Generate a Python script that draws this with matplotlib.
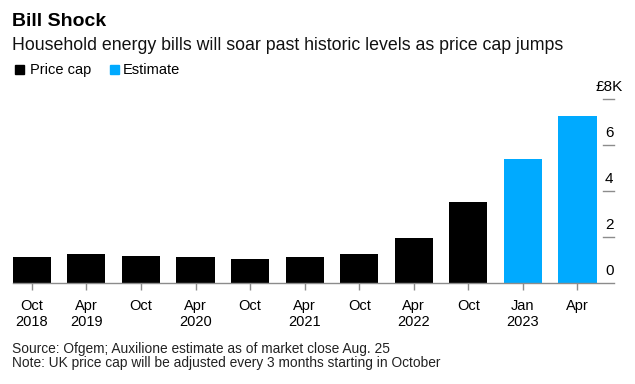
import matplotlib
matplotlib.use("Agg")
import matplotlib.pyplot as plt
from matplotlib.patches import Rectangle

plt.rcParams['font.family'] = ['Liberation Sans', 'DejaVu Sans']

# data (GBP thousands, annual typical household bill)
months = ['Oct', 'Apr', 'Oct', 'Apr', 'Oct', 'Apr', 'Oct', 'Apr', 'Oct', 'Jan', 'Apr']
years = ['2018', '2019', '', '2020', '', '2021', '', '2022', '', '2023', '']
values = [1.137, 1.254, 1.179, 1.162, 1.042, 1.138, 1.277, 1.971, 3.549, 5.387, 7.263]
is_estimate = [False] * 9 + [True] * 2
yticks = [0, 2, 4, 6, 8]
ytick_labels = ['0', '2', '4', '6', '£8K']

BLACK = '#000000'
BLUE = '#00aaff'
GRAY = '#8c8c8c'

W, H = 635, 384
fig = plt.figure(figsize=(W / 100, H / 100), dpi=100)
ax = fig.add_axes([12.7 / W, 1 - 283.3 / H, (613.5 - 12.7) / W, (283.3 - 99) / H])

x = list(range(len(values)))
colors = [BLUE if e else BLACK for e in is_estimate]
ax.bar(x, values, width=0.70, color=colors, zorder=2)

ax.set_xlim(-0.35, 10.66)
ax.set_ylim(0, 8)

for s in ['top', 'left', 'right']:
    ax.spines[s].set_visible(False)
ax.spines['bottom'].set_color(GRAY)
ax.spines['bottom'].set_linewidth(1)

ax.set_xticks(x)
ax.set_xticklabels([m + '\n' + y for m, y in zip(months, years)],
                   fontsize=10.5, linespacing=1.2)
ax.tick_params(axis='x', length=5, width=1, color=GRAY, pad=6.5)

# y axis: short dashes on the right with the labels sitting above them
ax.set_yticks([])
for v, lbl in zip(yticks, ytick_labels):
    if v > 0:
        ax.plot([0.9817, 1.0], [v, v], transform=ax.get_yaxis_transform(),
                color=GRAY, lw=1, clip_on=False)
    ax.annotate(lbl, xy=(1.0, v), xycoords=('axes fraction', 'data'),
                xytext=(-3, 5.8), textcoords='offset points',
                ha='center', va='baseline', fontsize=11)

fig.text(12 / W, 1 - 26 / H, 'Bill Shock', fontsize=14, fontweight='bold',
         va='baseline')
fig.text(12 / W, 1 - 49.5 / H,
         'Household energy bills will soar past historic levels as price cap jumps',
         fontsize=12.8, va='baseline', color='#111111')

# legend
fig.patches.append(Rectangle((15 / W, 1 - 74 / H), 9 / W, 9 / H,
                             transform=fig.transFigure, color=BLACK))
fig.text(30 / W, 1 - 74 / H, 'Price cap', fontsize=10.5, va='baseline')
fig.patches.append(Rectangle((110 / W, 1 - 74 / H), 9 / W, 9 / H,
                             transform=fig.transFigure, color=BLUE))
fig.text(123 / W, 1 - 74 / H, 'Estimate', fontsize=10.5, va='baseline')

fig.text(12 / W, 1 - 353.3 / H,
         'Source: Ofgem; Auxilione estimate as of market close Aug. 25',
         fontsize=9.9, va='baseline', color='#222222')
fig.text(12 / W, 1 - 366.7 / H,
         'Note: UK price cap will be adjusted every 3 months starting in October',
         fontsize=9.9, va='baseline', color='#222222')

fig.savefig('out.png', dpi=100)
